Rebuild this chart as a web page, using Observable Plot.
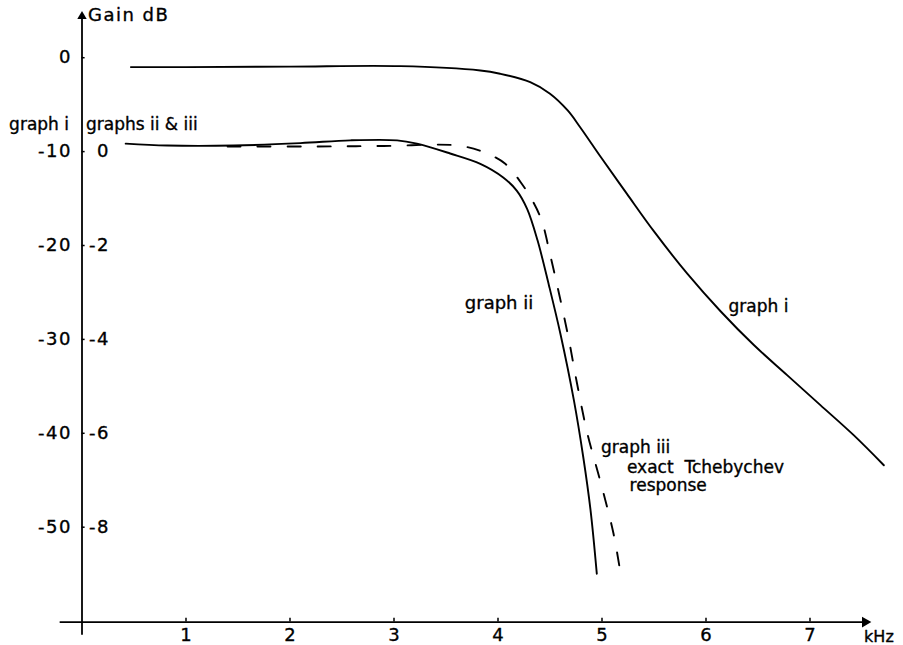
<!DOCTYPE html>
<html>
<head>
<meta charset="utf-8">
<script src="https://cdn.jsdelivr.net/npm/d3@7"></script>
<script src="https://cdn.jsdelivr.net/npm/@observablehq/plot@0.6"></script>
<style>
  html, body { margin: 0; padding: 0; background: #fff; }
  #chart svg { display: block; }
  .num text { letter-spacing: 1.5px; }
</style>
</head>
<body>
<div id="chart"></div>
<script>
// ---- Data (frequency in kHz, gain in dB) ----
// graph i : read on the outer (left) dB scale
const graphI_kHz = [0.47, 1.0, 2.0, 3.06, 3.83, 4.02, 4.31, 4.50, 4.67, 4.79, 4.99, 5.24, 5.50, 5.82, 6.14, 6.46, 6.78, 7.10, 7.42, 7.71];
const graphI_dB  = [-1.0, -1.0, -0.95, -0.9, -1.36, -1.71, -2.61, -3.84, -5.62, -7.40, -10.6, -14.5, -18.5, -23.0, -27.0, -30.6, -33.8, -37.0, -40.2, -43.4];
// graph ii : read on the inner (graphs ii & iii) dB scale
const graphII_kHz = [0.42, 0.82, 1.46, 2.10, 2.58, 3.03, 3.22, 3.54, 3.83, 4.05, 4.18, 4.28, 4.38, 4.49, 4.60, 4.73, 4.82, 4.89, 4.95];
const graphII_dB  = [0.17, 0.13, 0.13, 0.18, 0.24, 0.24, 0.17, -0.04, -0.26, -0.55, -0.83, -1.22, -1.89, -2.85, -3.88, -5.30, -6.51, -7.64, -8.99];
// graph iii : exact Tchebychev response, inner scale
const graphIII_kHz = [1.40, 2.26, 2.90, 3.61, 3.86, 4.07, 4.23, 4.34, 4.42, 4.50, 4.67, 4.76, 4.86, 4.99, 5.11, 5.17];
const graphIII_dB  = [0.11, 0.11, 0.12, 0.13, -0.01, -0.26, -0.69, -1.08, -1.47, -2.18, -3.88, -4.94, -6.01, -7.07, -8.13, -8.87];

const xTicks = [1, 2, 3, 4, 5, 6, 7];
const yTicksOuter = [0, -10, -20, -30, -40, -50];
const yTicksInner = [0, -2, -4, -6, -8];

// inner scale: 0 dB sits at outer -10, 2 dB per 10 outer dB
const innerToOuter = s => 5 * s - 10;

const gI = graphI_kHz.map((k, i) => ({k, dB: graphI_dB[i]}));
const gII = graphII_kHz.map((k, i) => ({k, dB: innerToOuter(graphII_dB[i])}));
const gIII = graphIII_kHz.map((k, i) => ({k, dB: innerToOuter(graphIII_dB[i])}));

const FONT = 17;
const NUMFONT = 18;
const Y_AXIS = -60.1;   // dB level of the frequency axis
const ink = {fill: "black", stroke: "black", strokeWidth: 0.35};

const chart = Plot.plot({
  width: 903,
  height: 645,
  x: {domain: [0, 7], range: [81.5, 81.5 + 7 * 104], axis: null},
  y: {domain: [0, -50], range: [57.2, 57.2 + 50 * 9.39], axis: null},
  style: {fontFamily: "DejaVu Sans", fontSize: FONT + "px", background: "#fff", color: "#000"},
  marks: [
    // axes
    Plot.ruleY([Y_AXIS], {x1: -0.21, x2: 7.52, stroke: "black", strokeWidth: 1.8}),
    Plot.dot([0], {x: 7.53, y: Y_AXIS, symbol: "triangle", r: 4, fill: "black", stroke: null, rotate: 90}),
    Plot.ruleX([0], {y1: -61.5, y2: 4.3, stroke: "black", strokeWidth: 1.8}),
    Plot.dot([0], {x: 0, y: 4.4, symbol: "triangle", r: 3.5, fill: "black", stroke: null}),
    // tick marks
    Plot.ruleX(xTicks, {x: d => d, y1: Y_AXIS, y2: Y_AXIS + 0.4, stroke: "black", strokeWidth: 1.5}),
    Plot.ruleY(yTicksOuter, {y: d => d, x1: 0, x2: 0.03, stroke: "black", strokeWidth: 1.5}),
    // tick labels
    Plot.text(xTicks, {x: d => d, y: -61.5, text: d => String(d), fontSize: NUMFONT, ...ink}),
    Plot.text(yTicksOuter, {x: 0, y: d => d, text: d => String(d), textAnchor: "end", dx: -10, fontSize: NUMFONT, className: "num", ...ink}),
    Plot.text(yTicksInner, {x: 0, y: d => innerToOuter(d), text: d => String(d), textAnchor: "end", dx: 28, fontSize: NUMFONT, className: "num", ...ink}),
    // axis titles
    Plot.text(["Gain dB"], {x: 0, y: 4.5, text: d => d, textAnchor: "start", dx: 6, fontSize: 18, className: "num", ...ink}),
    Plot.text(["kHz"], {x: 7.52, y: -61.7, text: d => d, textAnchor: "start", fontSize: 16, ...ink}),
    Plot.text(["graph i"], {x: 0, y: -7.1, text: d => d, textAnchor: "end", dx: -13, fontSize: FONT, ...ink}),
    Plot.text(["graphs ii & iii"], {x: 0, y: -7.1, text: d => d, textAnchor: "start", dx: 4, fontSize: FONT, ...ink}),
    // curves
    Plot.line(gI, {x: "k", y: "dB", curve: "catmull-rom", stroke: "black", strokeWidth: 1.9}),
    Plot.line(gII, {x: "k", y: "dB", curve: "catmull-rom", stroke: "black", strokeWidth: 1.9}),
    Plot.line(gIII, {x: "k", y: "dB", curve: "catmull-rom", stroke: "black", strokeWidth: 1.9, strokeDasharray: "13,17"}),
    // curve labels
    Plot.text(["graph i"], {x: 6.505, y: -26.5, text: d => d, fontSize: FONT, ...ink}),
    Plot.text(["graph ii"], {x: 4.01, y: -26.2, text: d => d, fontSize: 18, ...ink}),
    Plot.text(["graph iii"], {x: 4.99, y: -41.5, text: d => d, textAnchor: "start", fontSize: FONT, ...ink}),
    Plot.text(["exact  Tchebychev"], {x: 5.24, y: -43.6, text: d => d, textAnchor: "start", fontSize: FONT, ...ink}),
    Plot.text(["response"], {x: 5.265, y: -45.6, text: d => d, textAnchor: "start", fontSize: FONT, ...ink})
  ]
});
document.getElementById("chart").appendChild(chart);
</script>
</body>
</html>
